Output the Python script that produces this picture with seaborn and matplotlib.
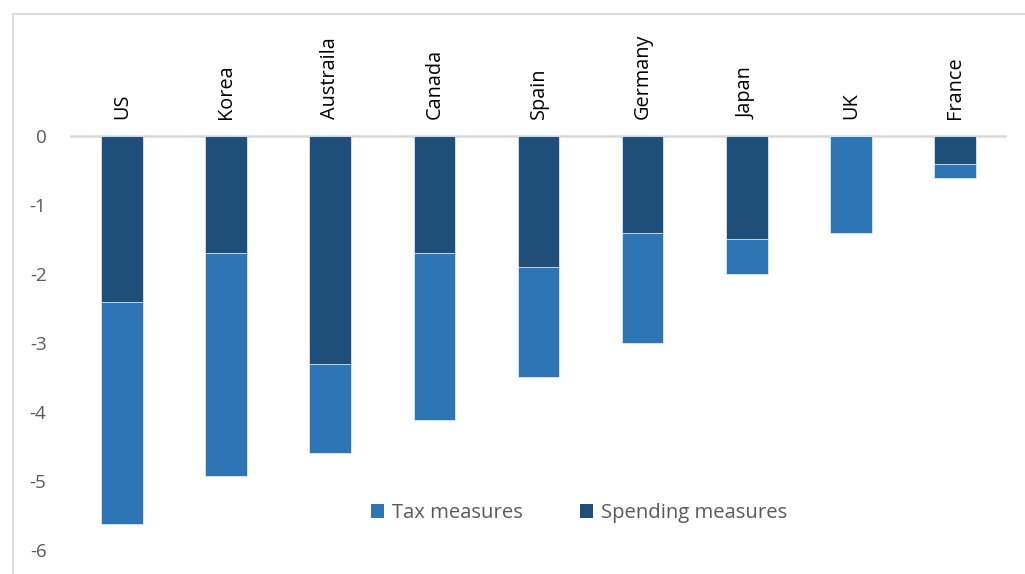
import matplotlib
matplotlib.use("Agg")
import matplotlib.pyplot as plt
from matplotlib.lines import Line2D
from matplotlib.patches import Patch
import seaborn as sns
import numpy as np
import pandas as pd

countries = ["US", "Korea", "Austraila", "Canada", "Spain", "Germany", "Japan", "UK", "France"]
spending = [-2.4, -1.7, -3.3, -1.7, -1.9, -1.4, -1.5, 0.0, -0.4]
tax = [-3.22, -3.23, -1.3, -2.42, -1.6, -1.6, -0.5, -1.41, -0.21]
yticks = [0, -1, -2, -3, -4, -5, -6]

dark = "#1F4E79"
light = "#2E75B6"

sns.set_theme(style="white")
plt.rcParams["font.family"] = ["Open Sans", "DejaVu Sans"]

df = pd.DataFrame({"country": countries, "spending": spending, "tax": tax})
df["total"] = df["spending"] + df["tax"]

W, H = 1025, 574
fig = plt.figure(figsize=(W / 100, H / 100), dpi=100)
ax = fig.add_axes([70 / W, 0, (1007 - 70) / W, 1])

sns.barplot(data=df, x="country", y="total", color=light, width=0.4, ax=ax,
            saturation=1, edgecolor="#dfe8f3", linewidth=0.6)
sns.barplot(data=df, x="country", y="spending", color=dark, width=0.4, ax=ax,
            saturation=1, edgecolor="#dfe8f3", linewidth=0.6)

# y mapping: 0 at 136px, 69px per unit
top_units = 136 / 69
bot_units = (H - 136) / 69
ax.set_ylim(-bot_units, top_units)
ax.set_xlim(-0.5, len(countries) - 0.5)

ax.axhline(0, color="#D9D9D9", lw=1.8, zorder=0.5)

for s in ax.spines.values():
    s.set_visible(False)
ax.set_xticks([])
ax.set_xlabel("")
ax.set_ylabel("")
ax.set_yticks(yticks)
ax.set_yticklabels([str(v) for v in yticks])
ax.tick_params(axis="y", length=0, pad=17, labelsize=13.5, labelcolor="#595959")

for i, c in enumerate(countries):
    ax.text(i, 0.25, c, rotation=90, ha="center", va="bottom", fontsize=14.3, color="black")

handles = [Patch(facecolor=light, edgecolor="none", label="Tax measures"),
           Patch(facecolor=dark, edgecolor="none", label="Spending measures")]
leg = ax.legend(handles=handles, loc="center", bbox_to_anchor=(579 / W, 1 - 513 / H),
                bbox_transform=fig.transFigure, ncol=2, frameon=False, fontsize=14.6,
                handlelength=0.65, handleheight=0.65, handletextpad=0.4, columnspacing=2.8)
for t in leg.get_texts():
    t.set_color("#595959")

# chart border (left and top visible)
fig.add_artist(Line2D([12.5 / W, 12.5 / W], [0, 1 - 13.5 / H], color="#D9D9D9", lw=1.3))
fig.add_artist(Line2D([12.5 / W, 1], [1 - 13.5 / H, 1 - 13.5 / H], color="#D9D9D9", lw=1.3))

fig.savefig("out.png", dpi=100)
